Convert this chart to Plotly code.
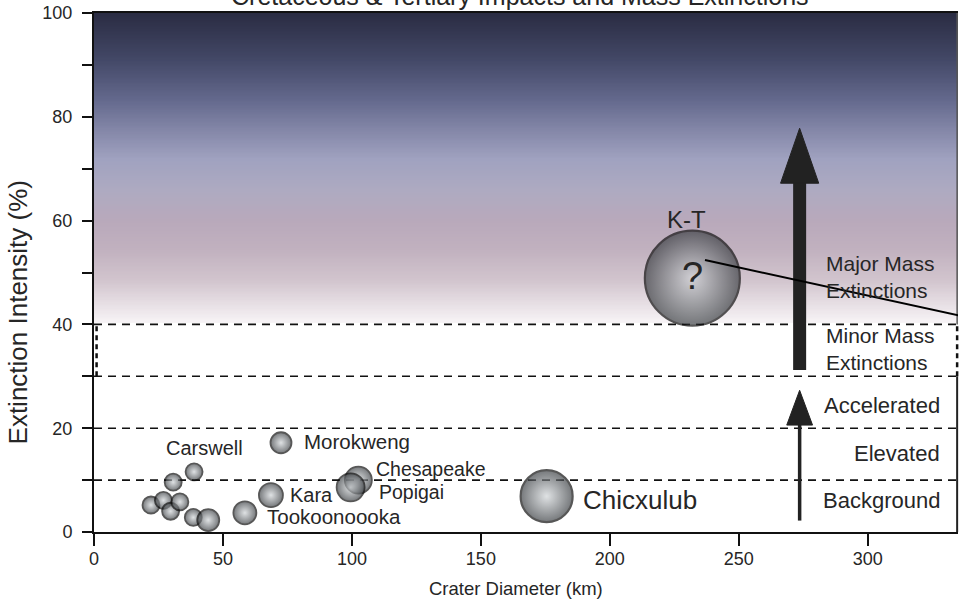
import plotly.graph_objects as go
import numpy as np

# ---------------- data ----------------
crater_names = ["", "", "", "", "", "Carswell", "", "", "Tookoonoooka", "Kara",
                "Morokweng", "Chesapeake", "Popigai", "Chicxulub", "K-T"]
crater_diameter_km = [22.1, 26.9, 29.7, 33.3, 30.7, 38.8, 38.5, 44.3, 58.5, 68.6,
                      72.5, 102.5, 99.5, 175.5, 232.0]
extinction_pct = [5.2, 6.1, 4.0, 5.8, 9.6, 11.6, 2.8, 2.3, 3.7, 7.1,
                  17.2, 10.0, 8.6, 6.9, 48.9]

band_levels = [10, 20, 30, 40]
band_labels_single = ["Accelerated", "Elevated", "Background"]
band_labels_single_y = [24.4, 15.2, 6.1]
band_labels_double = ["Major Mass<br>Extinctions", "Minor Mass<br>Extinctions"]
band_labels_double_y = [49.1, 35.2]

x_tick_vals = [0, 50, 100, 150, 200, 250, 300]
y_tick_vals = [0, 10, 20, 30, 40, 50, 60, 70, 80, 90, 100]
y_tick_text = ["0", "", "20", "", "40", "", "60", "", "80", "", "100"]

# arrows (data units)
arrow_x = 273.6
big_arrow_bottom, big_arrow_head_base, big_arrow_tip = 31.2, 67.2, 77.8
small_arrow_bottom, small_arrow_head_base, small_arrow_tip = 2.2, 20.6, 27.3
leader_start = (236.9, 52.4)
leader_end = (336.5, 41.6)

# ---------------- style ----------------
FONT = "Liberation Sans, Arial, sans-serif"
TXT = "#262626"
marker_px = [17, 17, 17, 17, 17, 17, 17, 22, 23, 24, 21, 27, 28, 52, 95]
marker_lw = [1.8] * 13 + [2.2, 2.2]
# label offsets in px: (xshift, yshift, xanchor, size)
label_style = {
    "Carswell": (10, 24, "center", 20),
    "Tookoonoooka": (20, -4, "left", 20.5),
    "Kara": (17, 0, "left", 20),
    "Morokweng": (21, 1, "left", 20.5),
    "Chesapeake": (16, 11, "left", 19.5),
    "Popigai": (26, -5, "left", 19.5),
    "Chicxulub": (34, -4, "left", 26),
    "K-T": (-6, 59, "center", 24),
}

grad_stops = [
    [0.0, "#f9f6f8"], [0.08, "#e3dae0"], [0.14, "#d2c5ce"], [0.24, "#c1b1bf"],
    [0.33, "#b9a9bb"], [0.43, "#aeaac1"], [0.53, "#a0a2c0"], [0.62, "#8588a9"],
    [0.72, "#64698d"], [0.85, "#434867"], [1.0, "#2a2c42"],
]

fig = go.Figure()

# gradient background (40 -> 100 %)
y_edges = np.linspace(40.3, 100, 240)
y_mid = (y_edges[:-1] + y_edges[1:]) / 2
fig.add_trace(go.Heatmap(
    x=[0, 335], y=y_edges, z=y_mid.reshape(-1, 1),
    colorscale=grad_stops, zmin=40, zmax=100, showscale=False, hoverinfo="skip",
))

fig.add_trace(go.Scatter(
    x=crater_diameter_km, y=extinction_pct, mode="markers", text=crater_names,
    marker=dict(size=marker_px, color="#3c4044",
                gradient=dict(type="radial", color="#d2d6d9"),
                line=dict(color="#111111", width=marker_lw)),
    hoverinfo="x+y+text", showlegend=False,
))

shapes = []
for lv in band_levels:
    shapes.append(dict(type="line", xref="paper", x0=0, x1=1, yref="y", y0=lv, y1=lv,
                       line=dict(color="#111", width=1.6, dash="8px,6px"), layer="below"))
# dashed side walls of minor-extinction box
shapes.append(dict(type="line", xref="paper", x0=0.003, x1=0.003, yref="y",
                   y0=band_levels[2], y1=band_levels[3],
                   line=dict(color="#111", width=2.5, dash="5px,4px")))
# right frame: solid / dashed / solid
shapes.append(dict(type="line", xref="paper", x0=0.999, x1=0.999, yref="y", y0=0, y1=band_levels[2],
                   line=dict(color="#222", width=2)))
shapes.append(dict(type="line", xref="paper", x0=0.999, x1=0.999, yref="y",
                   y0=band_levels[2], y1=band_levels[3],
                   line=dict(color="#111", width=2.5, dash="5px,4px")))
shapes.append(dict(type="line", xref="paper", x0=0.999, x1=0.999, yref="y", y0=band_levels[3], y1=100,
                   line=dict(color="#555", width=1.5)))

# arrows
ARROW_C = "#222222"
shapes.append(dict(type="line", x0=arrow_x, x1=arrow_x, y0=big_arrow_bottom,
                   y1=big_arrow_head_base + 0.5, line=dict(color=ARROW_C, width=13)))
hw = 7.4
shapes.append(dict(type="path",
                   path=f"M{arrow_x - hw},{big_arrow_head_base} L{arrow_x},{big_arrow_tip} "
                        f"L{arrow_x + hw},{big_arrow_head_base} Z",
                   fillcolor=ARROW_C, line=dict(color=ARROW_C, width=1)))
shapes.append(dict(type="line", x0=arrow_x, x1=arrow_x, y0=small_arrow_bottom,
                   y1=small_arrow_head_base + 0.3, line=dict(color=ARROW_C, width=3.5)))
hw2 = 5.0
shapes.append(dict(type="path",
                   path=f"M{arrow_x - hw2},{small_arrow_head_base} L{arrow_x},{small_arrow_tip} "
                        f"L{arrow_x + hw2},{small_arrow_head_base} Z",
                   fillcolor=ARROW_C, line=dict(color=ARROW_C, width=1)))
# leader line from K-T
shapes.append(dict(type="line", x0=leader_start[0], y0=leader_start[1],
                   x1=leader_end[0], y1=leader_end[1], line=dict(color="#000", width=2)))

annotations = []
for nm, xv, yv in zip(crater_names, crater_diameter_km, extinction_pct):
    if nm in label_style:
        xs, ys, xa, fs = label_style[nm]
        annotations.append(dict(x=xv, y=yv, xref="x", yref="y", text=nm, showarrow=False,
                                xanchor=xa, yanchor="middle", xshift=xs, yshift=ys,
                                font=dict(family=FONT, size=fs, color=TXT)))
    if nm == "K-T":
        annotations.append(dict(x=xv, y=yv, xref="x", yref="y", text="?", showarrow=False,
                                xanchor="center", yanchor="middle", yshift=2,
                                font=dict(family=FONT, size=38, color=TXT)))

for t, yv in zip(band_labels_single, band_labels_single_y):
    annotations.append(dict(x=328.8, y=yv, xref="x", yref="y", text=t, showarrow=False,
                            xanchor="right", yanchor="middle",
                            font=dict(family=FONT, size=22, color=TXT)))
for t, yv in zip(band_labels_double, band_labels_double_y):
    annotations.append(dict(x=283.1, y=yv, xref="x", yref="y", text=t, showarrow=False,
                            xanchor="left", yanchor="middle", align="left",
                            font=dict(family=FONT, size=21, color=TXT)))

# titles
annotations.append(dict(x=165.2, y=1, xref="x", yref="paper", yanchor="middle", yshift=17,
                        text="Cretaceous & Tertiary Impacts and Mass Extinctions",
                        showarrow=False, font=dict(family=FONT, size=25, color=TXT)))
annotations.append(dict(x=163.7, y=0, xref="x", yref="paper", yanchor="middle", yshift=-56,
                        text="Crater Diameter (km)", showarrow=False,
                        font=dict(family=FONT, size=18.5, color=TXT)))
annotations.append(dict(x=0, y=42.3, xref="paper", yref="y", xanchor="center", xshift=-76,
                        text="Extinction Intensity (%)", textangle=-90, showarrow=False,
                        font=dict(family=FONT, size=26, color=TXT)))

fig.update_layout(
    width=961, height=606,
    margin=dict(l=94, r=3, t=13, b=74, pad=0),
    paper_bgcolor="white", plot_bgcolor="white",
    showlegend=False,
    shapes=shapes, annotations=annotations,
    xaxis=dict(range=[0, 335], showgrid=False, zeroline=False, showline=True,
               linecolor="#111", linewidth=2, mirror=True,
               ticks="outside", ticklen=12, tickwidth=2, tickcolor="#111",
               tickvals=x_tick_vals, ticklabelstandoff=-3,
               tickfont=dict(family=FONT, size=18, color=TXT)),
    yaxis=dict(range=[0, 100], showgrid=False, zeroline=False, showline=True,
               linecolor="#111", linewidth=2, mirror=False,
               ticks="outside", ticklen=10, tickwidth=2, tickcolor="#111",
               tickvals=y_tick_vals, ticktext=y_tick_text, ticklabelstandoff=6,
               tickfont=dict(family=FONT, size=18, color=TXT)),
)

fig.write_html("out.html", config={"displayModeBar": False},
               post_script="document.body.style.margin='0px';document.body.style.overflow='hidden';")
